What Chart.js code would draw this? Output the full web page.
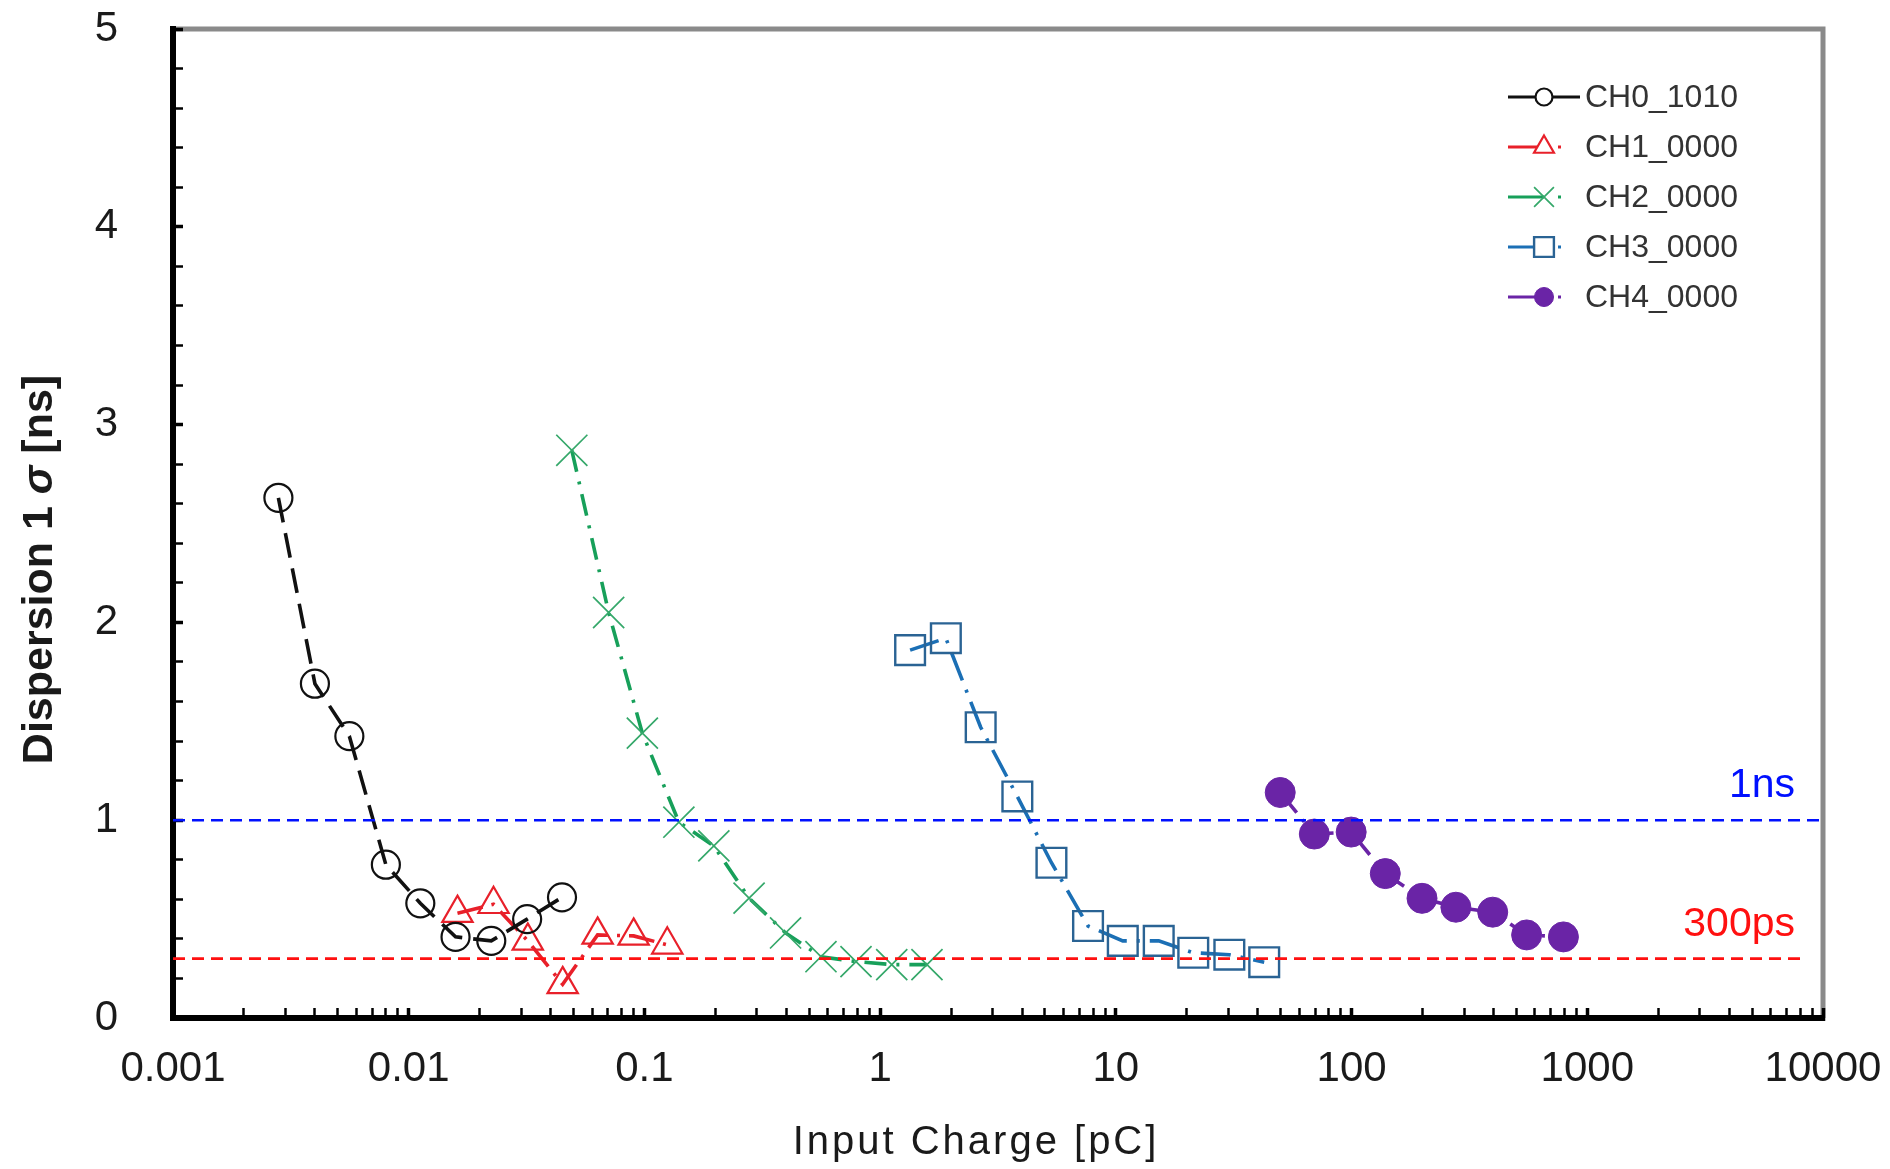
<!DOCTYPE html>
<html>
<head>
<meta charset="utf-8">
<title>Dispersion vs Input Charge</title>
<script src="https://cdn.jsdelivr.net/npm/chart.js@4.4.1/dist/chart.umd.min.js"></script>
<style>
  html, body { margin: 0; padding: 0; background: #fff; }
  canvas { display: block; }
</style>
</head>
<body>
<canvas id="dispersionChart" width="1890" height="1169"></canvas>
<script>
// Timing dispersion (1 sigma) of each channel against input charge
const seriesNames = ['CH0_1010', 'CH1_0000', 'CH2_0000', 'CH3_0000', 'CH4_0000'];

const ch0Charge = [0.0028, 0.0040, 0.0056, 0.0080, 0.0112, 0.0158, 0.0224, 0.0318, 0.0447];
const ch0Sigma  = [2.63, 1.69, 1.425, 0.775, 0.58, 0.41, 0.39, 0.50, 0.61];

const ch1Charge = [0.0161, 0.0229, 0.0320, 0.0450, 0.0633, 0.0900, 0.1250];
const ch1Sigma  = [0.53, 0.575, 0.39, 0.17, 0.42, 0.415, 0.37];

const ch2Charge = [0.0492, 0.0705, 0.0980, 0.140, 0.197, 0.278, 0.397, 0.561, 0.790, 1.12, 1.58];
const ch2Sigma  = [2.87, 2.05, 1.44, 0.99, 0.87, 0.606, 0.43, 0.31, 0.285, 0.27, 0.27];

const ch3Charge = [1.34, 1.90, 2.67, 3.82, 5.33, 7.62, 10.7, 15.2, 21.3, 30.3, 42.6];
const ch3Sigma  = [1.86, 1.92, 1.47, 1.12, 0.785, 0.465, 0.39, 0.39, 0.33, 0.32, 0.282];

const ch4Charge = [49.8, 69.5, 99.6, 139, 199, 277, 397, 553, 792];
const ch4Sigma  = [1.14, 0.93, 0.94, 0.73, 0.605, 0.56, 0.535, 0.42, 0.41];

// threshold lines
const refSigma  = [1, 0.3];
const refLabels = ['1ns', '300ps'];
const refEnd    = [10000, 8500];

const xDecades    = [0.001, 0.01, 0.1, 1, 10, 100, 1000, 10000];
const xTickLabels = ['0.001', '0.01', '0.1', '1', '10', '100', '1000', '10000'];
const yTickLabels = ['0', '1', '2', '3', '4', '5'];

const FONT = "'Liberation Sans', Arial, sans-serif";
const NONE = 'rgba(0,0,0,0)';

function zip(xs, ys) {
    return xs.map((x, i) => ({ x: x, y: ys[i] }));
}

function seriesSet(i, xs, ys, lineColor, markColor, style, radius, fill, dash, legendRadius, markWidth) {
    return {
        label: seriesNames[i],
        data: zip(xs, ys),
        showLine: true,
        order: 1,
        borderColor: lineColor,
        borderWidth: 3.6,
        borderDash: dash,
        tension: 0,
        pointStyle: style,
        pointRadius: radius,
        pointBorderColor: markColor,
        pointBackgroundColor: fill,
        pointBorderWidth: markWidth,
        legendRadius: legendRadius
    };
}

const datasets = [
    seriesSet(0, ch0Charge, ch0Sigma, '#111111', '#111111', 'circle', 14, NONE, [25, 11], 8.5, 2.2),
    seriesSet(1, ch1Charge, ch1Sigma, '#e8202a', '#e8202a', 'triangle', 17.5, NONE, [26, 9, 3, 9], 11.5, 2.2),
    seriesSet(2, ch2Charge, ch2Sigma, '#17a05a', '#35a86a', 'crossRot', 22, NONE, [22, 10, 3, 10], 14, 1.7),
    seriesSet(3, ch3Charge, ch3Sigma, '#1b6fb5', '#2a6394', 'rect', 21, NONE, [30, 10, 3, 10], 14, 2.4),
    seriesSet(4, ch4Charge, ch4Sigma, '#6a24a6', '#6a24a6', 'circle', 15, '#6a24a6', [26, 9, 3, 9], 9.5, 1)
];

const refColors = ['#0010ff', '#ff1010'];
refSigma.forEach((v, i) => {
    datasets.push({
        label: refLabels[i],
        data: [{ x: xDecades[0], y: v }, { x: refEnd[i], y: v }],
        showLine: true,
        isReference: true,
        order: 0,
        borderColor: refColors[i],
        borderWidth: 2.6,
        borderDash: [12, 7],
        pointRadius: 0
    });
});

function logTicks() {
    const ticks = [];
    xDecades.forEach((d, k) => {
        ticks.push({ value: d, major: true });
        if (k === xDecades.length - 1) return;
        for (let m = 2; m <= 9; m++) ticks.push({ value: +(d * m).toPrecision(6), major: false });
    });
    return ticks;
}

// label overhang must not shrink the plot box
function clearPadding(scale) {
    scale.paddingTop = 0;
    scale.paddingBottom = 0;
    scale.paddingLeft = 0;
    scale.paddingRight = 0;
}

// top/right frame, axis titles, threshold captions and the legend box
const decorations = {
    id: 'decorations',
    beforeDraw(chart) {
        const { ctx, chartArea: a } = chart;
        ctx.save();
        ctx.fillStyle = '#fff';
        ctx.fillRect(0, 0, chart.width, chart.height);
        ctx.strokeStyle = '#8a8a8a';
        ctx.lineWidth = 5;
        ctx.beginPath();
        ctx.moveTo(a.left, a.top);
        ctx.lineTo(a.right, a.top);
        ctx.lineTo(a.right, a.bottom);
        ctx.stroke();
        ctx.restore();
    },
    afterDraw(chart) {
        const { ctx, chartArea: a } = chart;
        const yScale = chart.scales.y;

        // threshold captions
        ctx.save();
        ctx.font = '41px ' + FONT;
        ctx.textAlign = 'right';
        ctx.textBaseline = 'alphabetic';
        refSigma.forEach((v, i) => {
            ctx.fillStyle = refColors[i];
            ctx.fillText(refLabels[i], a.right - 28, yScale.getPixelForValue(v) - 23);
        });
        ctx.restore();

        // legend
        const lx = a.right - 315;
        const ly = a.top + 68;
        for (let i = 0; i < seriesNames.length; i++) {
            const ds = chart.data.datasets[i];
            const yy = ly + i * 50;
            const mx = lx + 36;
            const dotted = ds.borderDash.length > 2;
            ctx.save();
            ctx.strokeStyle = ds.borderColor;
            ctx.lineWidth = 3;
            ctx.beginPath();
            ctx.moveTo(lx, yy);
            ctx.lineTo(dotted ? mx : lx + 72, yy);
            ctx.stroke();
            if (dotted) {
                ctx.fillStyle = ds.borderColor;
                ctx.fillRect(mx + 14, yy - 1.5, 3, 3);
            }
            ctx.strokeStyle = ds.pointBorderColor;
            ctx.fillStyle = ds.pointBackgroundColor === NONE ? '#fff' : ds.pointBackgroundColor;
            ctx.lineWidth = ds.pointBorderWidth;
            Chart.helpers.drawPoint(ctx, {
                pointStyle: ds.pointStyle,
                radius: ds.legendRadius,
                borderWidth: ds.pointBorderWidth,
                rotation: 0
            }, mx, yy);
            ctx.fillStyle = '#333';
            ctx.font = '32px ' + FONT;
            ctx.textAlign = 'left';
            ctx.textBaseline = 'middle';
            ctx.fillText(ds.label, lx + 77, yy + 1);
            ctx.restore();
        }

        // y axis title, sigma in italic
        ctx.save();
        ctx.translate(40, (a.top + a.bottom) / 2 + 46);
        ctx.rotate(-Math.PI / 2);
        ctx.fillStyle = '#1a1a1a';
        ctx.textBaseline = 'middle';
        ctx.textAlign = 'left';
        const parts = [
            { t: 'Dispersion 1 ', f: 'bold 43px ' + FONT },
            { t: 'σ', f: 'italic bold 43px ' + FONT },
            { t: ' [ns]', f: 'bold 43px ' + FONT }
        ];
        let total = 0;
        parts.forEach(p => { ctx.font = p.f; p.w = ctx.measureText(p.t).width; total += p.w; });
        let px = -total / 2;
        parts.forEach(p => { ctx.font = p.f; ctx.fillText(p.t, px, 0); px += p.w; });
        ctx.restore();

        // x axis title
        ctx.save();
        ctx.fillStyle = '#1a1a1a';
        ctx.font = '40px ' + FONT;
        ctx.letterSpacing = '3px';
        ctx.textAlign = 'center';
        ctx.textBaseline = 'middle';
        ctx.fillText('Input Charge [pC]', (a.left + a.right) / 2 - 22, a.bottom + 125);
        ctx.restore();
    }
};

new Chart(document.getElementById('dispersionChart'), {
    type: 'scatter',
    data: { datasets: datasets },
    options: {
        responsive: false,
        animation: false,
        layout: { padding: { top: 29, right: 67, left: 0, bottom: 0 } },
        plugins: {
            legend: { display: false },
            tooltip: { enabled: false }
        },
        scales: {
            x: {
                type: 'logarithmic',
                position: 'bottom',
                min: xDecades[0],
                max: xDecades[xDecades.length - 1],
                afterBuildTicks(scale) { scale.ticks = logTicks(); },
                afterFit(scale) { scale.height = 151; clearPadding(scale); },
                border: { color: '#000', width: 6 },
                grid: {
                    drawOnChartArea: false,
                    drawTicks: true,
                    tickLength: -10,
                    tickColor: '#000',
                    tickWidth: c => (c.tick && c.tick.major ? 3.5 : 2.5)
                },
                ticks: {
                    autoSkip: false,
                    maxRotation: 0,
                    padding: 36,
                    color: '#1a1a1a',
                    font: { family: FONT, size: 42 },
                    callback: v => {
                        const i = xDecades.indexOf(v);
                        return i < 0 ? '' : xTickLabels[i];
                    }
                }
            },
            y: {
                type: 'linear',
                min: 0,
                max: 5,
                afterFit(scale) { scale.width = 173; clearPadding(scale); },
                border: { color: '#000', width: 6 },
                grid: {
                    drawOnChartArea: false,
                    drawTicks: true,
                    tickLength: -10,
                    tickColor: '#000',
                    tickWidth: c => (c.tick && Math.abs(c.tick.value - Math.round(c.tick.value)) < 1e-6 ? 3.5 : 2.5)
                },
                ticks: {
                    stepSize: 0.2,
                    autoSkip: false,
                    padding: 65,
                    color: '#1a1a1a',
                    font: { family: FONT, size: 42 },
                    callback: v => {
                        const i = Math.round(v);
                        return Math.abs(v - i) < 1e-6 ? yTickLabels[i] : '';
                    }
                }
            }
        }
    },
    plugins: [decorations]
});
</script>
</body>
</html>
